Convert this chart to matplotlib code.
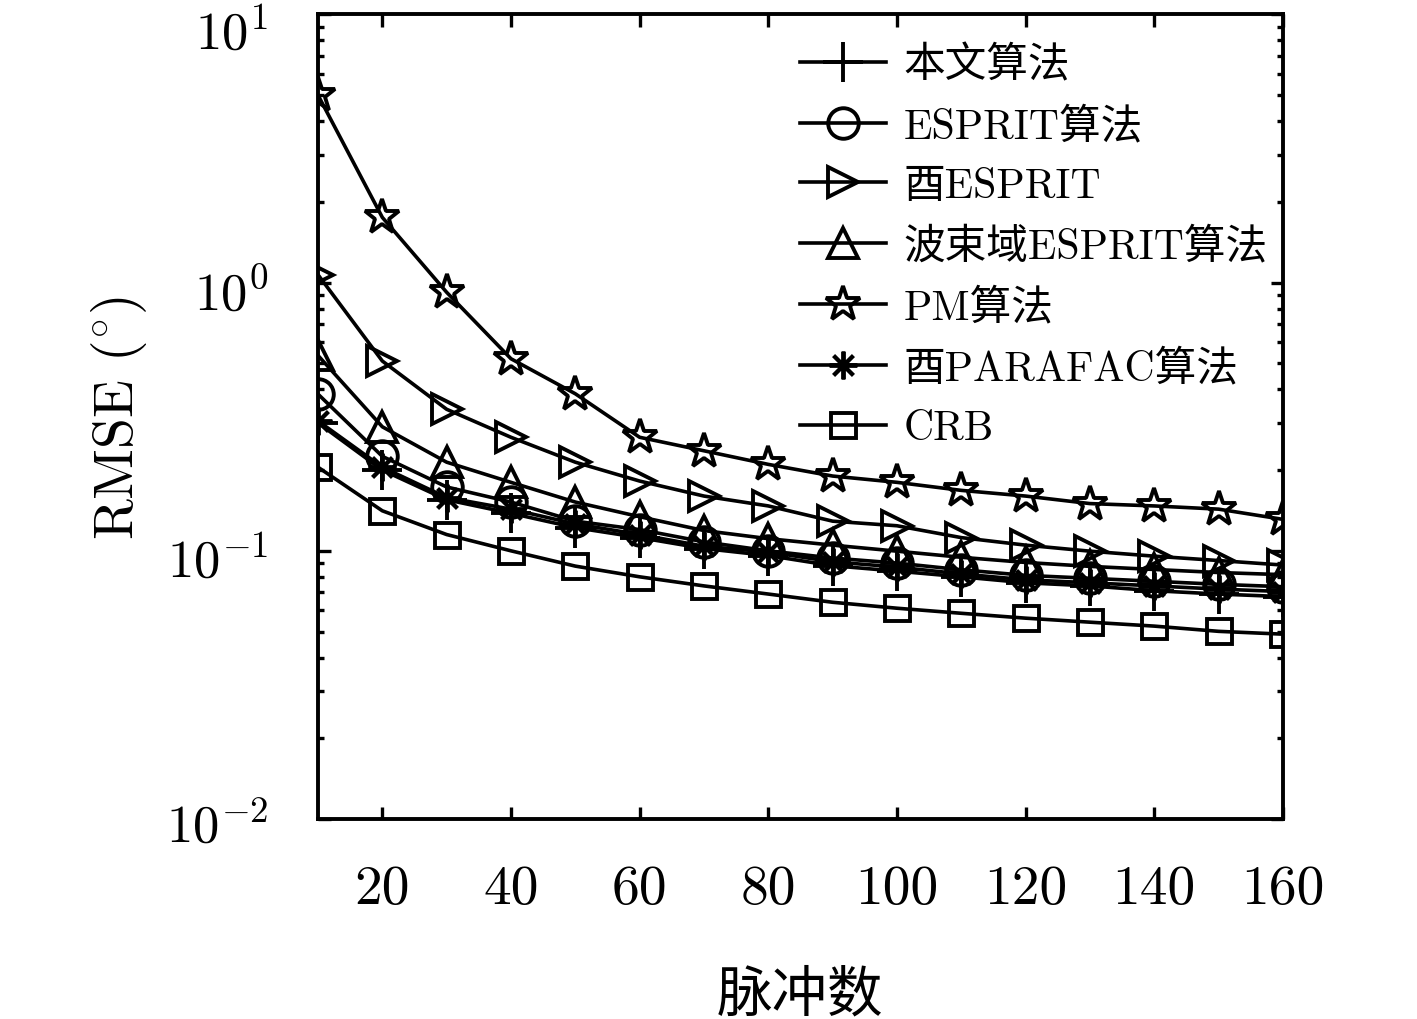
import numpy as np
import matplotlib
matplotlib.use('Agg')
import matplotlib.pyplot as plt
import matplotlib.transforms as mtransforms

plt.rcParams['font.family'] = ['cmr10', 'Noto Sans CJK SC', 'DejaVu Sans']
plt.rcParams['mathtext.fontset'] = 'cm'
plt.rcParams['axes.formatter.use_mathtext'] = True
plt.rcParams['axes.unicode_minus'] = False

# pulse numbers
pulses = [10, 20, 30, 40, 50, 60, 70, 80, 90, 100, 110, 120, 130, 140, 150, 160]

# RMSE (deg)
rmse_proposed = [0.300, 0.200, 0.155, 0.138, 0.122, 0.112, 0.102, 0.096,
                 0.088, 0.084, 0.080, 0.076, 0.074, 0.071, 0.069, 0.0675]
rmse_esprit = [0.384, 0.225, 0.173, 0.152, 0.129, 0.120, 0.108, 0.100,
               0.094, 0.090, 0.085, 0.081, 0.079, 0.077, 0.075, 0.0735]
rmse_uesprit = [1.07, 0.51, 0.337, 0.265, 0.214, 0.182, 0.160, 0.147,
                0.129, 0.124, 0.112, 0.105, 0.0997, 0.0955, 0.092, 0.0885]
rmse_beam = [0.535, 0.290, 0.214, 0.180, 0.152, 0.134, 0.119, 0.111,
             0.105, 0.0997, 0.0946, 0.0905, 0.0875, 0.0852, 0.083, 0.0815]
rmse_pm = [5.0, 1.75, 0.92, 0.52, 0.385, 0.265, 0.236, 0.210,
           0.190, 0.180, 0.168, 0.160, 0.150, 0.147, 0.143, 0.131]
rmse_parafac = [0.305, 0.205, 0.158, 0.143, 0.126, 0.115, 0.104, 0.099,
                0.091, 0.087, 0.082, 0.078, 0.076, 0.074, 0.072, 0.0705]
rmse_crb = [0.205, 0.141, 0.115, 0.100, 0.0877, 0.080, 0.074, 0.069,
            0.0643, 0.0611, 0.0585, 0.0561, 0.0542, 0.0524, 0.0501, 0.0489]

labels = ['本文算法', 'ESPRIT算法', '酉ESPRIT', '波束域ESPRIT算法',
          'PM算法', '酉PARAFAC算法', 'CRB']

fig = plt.figure(figsize=(14.17, 10.2), dpi=100)
ax = fig.add_axes([0.2244, 0.196, 0.681, 0.789])

lw = 2.6
mew = 2.8
ax.plot(pulses, rmse_proposed, 'k-', marker='+', ms=29, mew=mew, lw=lw, label=labels[0])
ax.plot(pulses, rmse_esprit, 'k-', marker='o', ms=22, mew=mew, mfc='none', lw=lw, label=labels[1])
ax.plot(pulses, rmse_uesprit, 'k-', marker='>', ms=22, mew=mew, mfc='none', lw=lw, label=labels[2])
ax.plot(pulses, rmse_beam, 'k-', marker='^', ms=22, mew=mew, mfc='none', lw=lw, label=labels[3])
ax.plot(pulses, rmse_pm, 'k-', marker='*', ms=26, mew=mew, mfc='none', lw=lw, label=labels[4])
ax.plot(pulses, rmse_parafac, 'k-', marker=(8, 2, 0), ms=20, mew=mew, lw=lw, label=labels[5])
ax.plot(pulses, rmse_crb, 'k-', marker='s', ms=18, mew=mew, mfc='none', lw=lw, label=labels[6])

ax.set_yscale('log')
ax.set_ylim(1e-2, 1e1)
ax.set_xlim(10, 160)
ax.set_xticks([20, 40, 60, 80, 100, 120, 140, 160])
ax.set_xticklabels(['20', '40', '60', '80', '100', '120', '140', '160'])
ax.set_yticks([1e-2, 1e-1, 1e0, 1e1])
ax.set_yticklabels(['$10^{-2}$', '$10^{-1}$', '$10^{0}$', '$10^{1}$'])

for s in ax.spines.values():
    s.set_linewidth(2.8)
ax.tick_params(which='major', direction='in', length=9, width=2.4,
               top=True, right=True, labelsize=40)
ax.tick_params(which='minor', direction='in', length=4, width=2.4,
               top=True, right=True)
ax.tick_params(axis='x', which='minor', bottom=False, top=False)
ax.tick_params(axis='x', which='major', pad=33)
ax.tick_params(axis='y', which='major', pad=36, labelsize=38)

# nudge the y tick labels down a little, as in the original
shifts = [3, 5, 6, 14]
for lab, dy in zip(ax.get_yticklabels(), shifts):
    lab.set_transform(lab.get_transform() +
                      mtransforms.ScaledTranslation(0, -dy / 100, fig.dpi_scale_trans))

ax.set_xlabel('脉冲数', fontsize=40, labelpad=40)
ax.set_ylabel('RMSE $(^{\\circ})$', fontsize=40, labelpad=12)

leg = ax.legend(loc='upper left', bbox_to_anchor=(0.50, 0.962), frameon=False,
                fontsize=30, handlelength=2.05, handletextpad=0.42,
                labelspacing=0.53, borderpad=0.0, borderaxespad=0.0)

fig.savefig('out.png', dpi=100, facecolor='white')
